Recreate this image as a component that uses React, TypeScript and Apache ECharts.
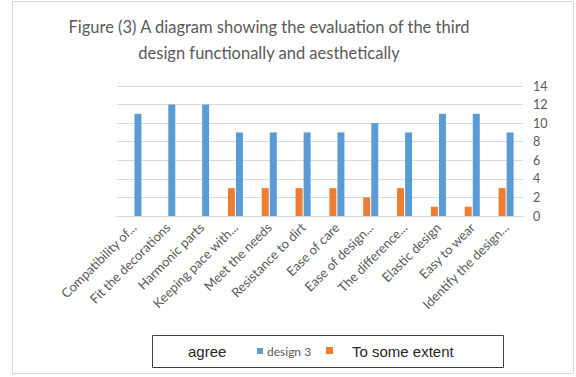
import React, { useEffect, useRef } from "react";
import * as echarts from "echarts";

const categories = [
  "Compatibility of...",
  "Fit the decorations",
  "Harmonic parts",
  "Keeping pace with...",
  "Meet the needs",
  "Resistance to dirt",
  "Ease of care",
  "Ease of design...",
  "The difference...",
  "Elastic design",
  "Easy to wear",
  "Identify the design...",
];

const toSomeExtent = [0, 0, 0, 3, 3, 3, 3, 2, 3, 1, 1, 3];
const agree = [11, 12, 12, 9, 9, 9, 9, 10, 9, 11, 11, 9];

const titleLines = [
  "Figure (3) A diagram showing the evaluation of the third",
  "design functionally and aesthetically",
];

const BLUE = "#5b9bd5";
const ORANGE = "#ed7d31";
const TEXT = "#595959";

export default function App() {
  const ref = useRef<HTMLDivElement>(null);

  useEffect(() => {
    if (!ref.current) return;
    const chart = echarts.init(ref.current, undefined, { renderer: "svg" });
    chart.setOption({
      animation: false,
      backgroundColor: "#ffffff",
      grid: { left: 117, right: 53, top: 86, bottom: 161, containLabel: false },
      xAxis: {
        type: "category",
        data: categories,
        axisLine: { lineStyle: { color: "#d9d9d9", width: 1 } },
        axisTick: { show: false },
        axisLabel: {
          rotate: 45,
          interval: 0,
          color: TEXT,
          fontFamily: "Lato",
          fontSize: 13,
          margin: 9,
        },
      },
      yAxis: {
        type: "value",
        position: "right",
        min: 0,
        max: 14,
        interval: 2,
        axisLine: { show: false },
        axisTick: { show: false },
        splitLine: { lineStyle: { color: "#d9d9d9", width: 1 } },
        axisLabel: { color: TEXT, fontFamily: "Lato", fontSize: 12.5, margin: 10 },
      },
      series: [
        {
          name: "To some extent",
          type: "bar",
          data: toSomeExtent,
          barWidth: 7,
          barGap: "15%",
          itemStyle: { color: ORANGE },
        },
        {
          name: "agree",
          type: "bar",
          data: agree,
          barWidth: 7,
          itemStyle: { color: BLUE },
        },
      ],
      graphic: [
        {
          type: "rect",
          silent: true,
          shape: { x: 12.5, y: 1.5, width: 561, height: 372 },
          style: { fill: "none", stroke: "#d9d9d9", lineWidth: 1 },
          z: -1,
        },
        {
          type: "text",
          x: 269,
          y: 14,
          style: {
            text: titleLines.join("\n"),
            fill: TEXT,
            font: "16.5px Lato",
            align: "center",
            lineHeight: 26,
          },
        },
        {
          type: "rect",
          shape: { x: 152.5, y: 335.5, width: 351, height: 32 },
          style: { fill: "#ffffff", stroke: "#404040", lineWidth: 1 },
        },
        {
          type: "text",
          x: 188,
          y: 351,
          style: {
            text: "agree",
            fill: "#262626",
            font: "15px 'Liberation Sans'",
            verticalAlign: "middle",
          },
        },
        {
          type: "rect",
          shape: { x: 257, y: 348, width: 6, height: 6 },
          style: { fill: BLUE },
        },
        {
          type: "text",
          x: 267,
          y: 351,
          style: {
            text: "design 3",
            fill: TEXT,
            font: "12px Lato",
            verticalAlign: "middle",
          },
        },
        {
          type: "rect",
          shape: { x: 326, y: 347, width: 7, height: 7 },
          style: { fill: ORANGE },
        },
        {
          type: "text",
          x: 352,
          y: 351,
          style: {
            text: "To some extent",
            fill: "#262626",
            font: "15px 'Liberation Sans'",
            verticalAlign: "middle",
          },
        },
      ],
    });
    return () => chart.dispose();
  }, []);

  return (
    <div
      ref={ref}
      style={{ position: "fixed", left: 0, top: 0, width: 576, height: 377 }}
    />
  );
}
